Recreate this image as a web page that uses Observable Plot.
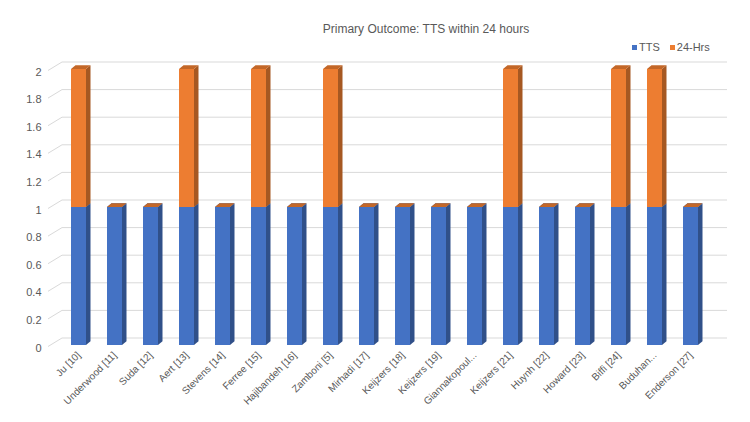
<!DOCTYPE html>
<html>
<head>
<meta charset="utf-8">
<script src="https://cdn.jsdelivr.net/npm/d3@7"></script>
<script src="https://cdn.jsdelivr.net/npm/@observablehq/plot@0.6"></script>
<style>
  body { margin: 0; background: #fff; font-family: "Liberation Sans", Arial, sans-serif; }
  #wrap { position: relative; width: 750px; height: 422px; overflow: hidden; }
  #title { position: absolute; left: 426px; top: 22px; transform: translateX(-50%); white-space: nowrap;
           font-size: 12px; color: #595959; }
  #legend { position: absolute; left: 632px; top: 41px; font-size: 11px; color: #595959; white-space: nowrap; }
  #legend span.sw { display: inline-block; width: 5px; height: 5px; margin-right: 2px; vertical-align: 1px; }
  #legend span.item { margin-right: 10px; }
  #chart { position: absolute; left: 0; top: 0; }
</style>
</head>
<body>
<div id="wrap">
  <div id="chart"></div>
  <div id="title">Primary Outcome: TTS within 24 hours</div>
  <div id="legend"></div>
</div>
<script>
// Studies and the two stacked series
const studies = [
  "Ju [10]", "Underwood [11]", "Suda [12]", "Aert [13]", "Stevens [14]", "Ferree [15]",
  "Hajibandeh [16]", "Zamboni [5]", "Mirhadi [17]", "Keijzers [18]", "Keijzers [19]",
  "Giannakopoul...", "Keijzers [21]", "Huynh [22]", "Howard [23]", "Biffi [24]",
  "Buduhan...", "Enderson [27]"
];
const tts   = [1, 1, 1, 1, 1, 1, 1, 1, 1, 1, 1, 1, 1, 1, 1, 1, 1, 1];
const hrs24 = [1, 0, 0, 1, 0, 1, 0, 1, 0, 0, 0, 0, 1, 0, 0, 1, 1, 0];
const seriesNames = ["TTS", "24-Hrs"];
const seriesColors = ["#4472C4", "#ED7D31"];
const yTicks = [0, 0.2, 0.4, 0.6, 0.8, 1, 1.2, 1.4, 1.6, 1.8, 2];

const rows = studies.flatMap((study, i) => [
  {study, series: "TTS", value: tts[i]},
  {study, series: "24-Hrs", value: hrs24[i]}
]);

// Extrusion of each bar: a darker right side and a top face
const depthX = 4.5, depthY = -3.7;
function extrude(index, scales, values, dimensions, context, next) {
  const g = next(index, scales, values, dimensions, context);
  const rects = Array.from(g.querySelectorAll("rect"));
  for (const r of rects) {
    const x = +r.getAttribute("x"), y = +r.getAttribute("y");
    const w = +r.getAttribute("width"), h = +r.getAttribute("height");
    const fill = r.getAttribute("fill") || getComputedStyle(r).fill;
    const base = d3.color(fill);
    const side = document.createElementNS("http://www.w3.org/2000/svg", "path");
    side.setAttribute("d",
      `M${x + w},${y}L${x + w + depthX},${y + depthY}L${x + w + depthX},${y + h + depthY}L${x + w},${y + h}Z`);
    side.setAttribute("fill", base.darker(1).formatHex());
    const top = document.createElementNS("http://www.w3.org/2000/svg", "path");
    top.setAttribute("d",
      `M${x},${y}L${x + depthX},${y + depthY}L${x + w + depthX},${y + depthY}L${x + w},${y}Z`);
    top.setAttribute("fill", base.darker(0.55).formatHex());
    r.after(side, top);
  }
  return g;
}

// Back-wall gridlines with a short receding segment at the left
function wallGrid(index, scales, values, dimensions) {
  const g = d3.create("svg:g").attr("fill", "none").attr("stroke", "#d9d9d9").attr("stroke-width", 1);
  const {marginLeft, marginRight, width} = dimensions;
  for (const i of index) {
    const y = values.y[i];
    g.append("path").attr("d",
      `M${marginLeft - 14},${y + 1.5}L${marginLeft},${y - 7}H${width - marginRight}`);
  }
  return g.node();
}

const plot = Plot.plot({
  width: 750,
  height: 422,
  marginLeft: 62,
  marginRight: 23,
  marginTop: 69,
  marginBottom: 77,
  style: {fontFamily: "'Liberation Sans', Arial, sans-serif", color: "#595959", background: "transparent"},
  x: {domain: studies, range: [63.2, 706.5], paddingInner: 0.59, paddingOuter: 0, align: 0.5, label: null},
  y: {domain: [0, 2], range: [345, 69], label: null},
  color: {domain: seriesNames, range: seriesColors},
  marks: [
    Plot.ruleY(yTicks, {y: d => d, render: wallGrid}),
    Plot.barY(rows, Plot.stackY({
      x: "study", y: "value", fill: "series", order: seriesNames, render: extrude
    })),
    Plot.axisY(yTicks, {tickSize: 0, tickPadding: 21, dy: 2.5, fontSize: 11, tickFormat: d => String(d), label: null}),
    Plot.axisX({tickRotate: -45, tickSize: 0, tickPadding: 8, fontSize: 10, label: null})
  ]
});
document.getElementById("chart").appendChild(plot);

// Legend
const legend = document.getElementById("legend");
seriesNames.forEach((name, i) => {
  const item = document.createElement("span");
  item.className = "item";
  item.innerHTML = `<span class="sw" style="background:${seriesColors[i]}"></span>${name}`;
  legend.appendChild(item);
});
</script>
</body>
</html>
